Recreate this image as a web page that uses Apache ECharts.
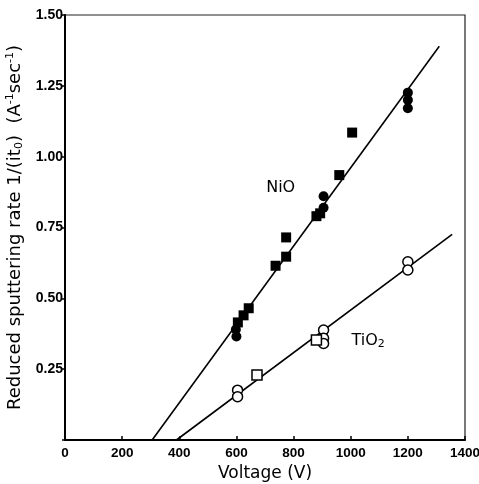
<!DOCTYPE html>
<html><head><meta charset="utf-8">
<script src="https://cdn.jsdelivr.net/npm/echarts@6/dist/echarts.min.js"></script>
<style>html,body{margin:0;padding:0;background:#fff}#c{width:479px;height:484px}</style>
</head><body><div id="c"></div>
<script>
// ---- data ----
var xTicks = [0, 200, 400, 600, 800, 1000, 1200, 1400];
var yTicks = [0.25, 0.50, 0.75, 1.00, 1.25, 1.50];
var nioCircles = [[600,0.365],[598,0.39],[905,0.86],[905,0.82],[1200,1.226],[1200,1.200],[1200,1.171]];
var nioSquares = [[605,0.415],[625,0.44],[643,0.465],[737,0.615],[774,0.647],[774,0.715],[880,0.79],[893,0.80],[960,0.935],[1005,1.085]];
var tioCircles = [[604,0.176],[604,0.153],[905,0.388],[905,0.359],[905,0.341],[1200,0.629],[1200,0.600]];
var tioSquares = [[672,0.229],[880,0.353]];
var nioFit = [[305,0],[1310,1.39]];
var tioFit = [[390,0],[1355,0.726]];
var nioLabelPos = [[755,0.89]];
var tioLabelPos = [[1061,0.349]];

var tickFont = "'Liberation Sans',sans-serif";
var nameFont = "'DejaVu Sans',sans-serif";
var chart = echarts.init(document.getElementById('c'), null, {renderer:'canvas'});
chart.setOption({
  animation:false,
  backgroundColor:'#fff',
  grid:{left:65,right:14,top:15,bottom:44,containLabel:false,outerBoundsMode:'none',
    show:true,borderColor:'#222',borderWidth:1.2},
  xAxis:{type:'value',min:0,max:1400,interval:200,
    axisLine:{lineStyle:{color:'#000',width:2}},
    axisTick:{inside:true,length:4,lineStyle:{color:'#000',width:1.5}},
    splitLine:{show:false},
    axisLabel:{color:'#000',fontFamily:tickFont,fontWeight:'bold',fontSize:13.5,margin:6,
      formatter:function(v){return String(v);}},
    name:'Voltage (V)',nameLocation:'middle',nameGap:24,
    nameTextStyle:{color:'#000',fontFamily:nameFont,fontSize:17}
  },
  yAxis:{type:'value',min:0,max:1.5,interval:0.25,
    axisLine:{show:true,lineStyle:{color:'#000',width:2}},
    axisTick:{show:true,inside:false,length:3,lineStyle:{color:'#000',width:1.5}},
    splitLine:{show:false},
    axisLabel:{color:'#000',fontFamily:tickFont,fontWeight:'bold',fontSize:14,margin:2,
      formatter:function(v){return v===0?'':v.toFixed(2);}},
    name:'{n|Reduced sputtering rate 1/(it}{sub|0}{n|)  (A}{sup|-1}{n|sec}{sup|-1}{n|)}',
    nameLocation:'middle',nameGap:29,
    nameTextStyle:{color:'#000',fontFamily:nameFont,fontSize:18,
      rich:{n:{fontSize:18,fontFamily:nameFont,color:'#000'},
            sub:{fontSize:11,verticalAlign:'bottom',padding:[9,0,0,0],fontFamily:nameFont,color:'#000'},
            sup:{fontSize:11,verticalAlign:'top',padding:[0,0,9,0],fontFamily:nameFont,color:'#000'}}}
  },
  series:[
    {type:'line',data:nioFit,symbol:'none',lineStyle:{color:'#000',width:1.6},z:1},
    {type:'line',data:tioFit,symbol:'none',lineStyle:{color:'#000',width:1.6},z:1},
    {type:'scatter',data:nioCircles,symbol:'circle',symbolSize:10,itemStyle:{color:'#000',opacity:1},z:3},
    {type:'scatter',data:nioSquares,symbol:'rect',symbolSize:10,itemStyle:{color:'#000',opacity:1},z:3},
    {type:'scatter',data:tioCircles,symbol:'circle',symbolSize:10,itemStyle:{color:'#fff',borderColor:'#000',borderWidth:1.5,opacity:1},z:3},
    {type:'scatter',data:tioSquares,symbol:'rect',symbolSize:10,itemStyle:{color:'#fff',borderColor:'#000',borderWidth:1.5,opacity:1},z:3},
    {type:'scatter',data:nioLabelPos,symbolSize:0,silent:true,itemStyle:{opacity:1},
      label:{show:true,position:'inside',formatter:'NiO',color:'#000',fontSize:16,fontFamily:nameFont}},
    {type:'scatter',data:tioLabelPos,symbolSize:0,silent:true,itemStyle:{opacity:1},
      label:{show:true,position:'inside',formatter:'{n|TiO}{s|2}',
        rich:{n:{fontSize:16,color:'#000',fontFamily:nameFont},
              s:{fontSize:11,color:'#000',verticalAlign:'bottom',padding:[6,0,0,0],fontFamily:nameFont}}}}
  ]
});
</script></body></html>
